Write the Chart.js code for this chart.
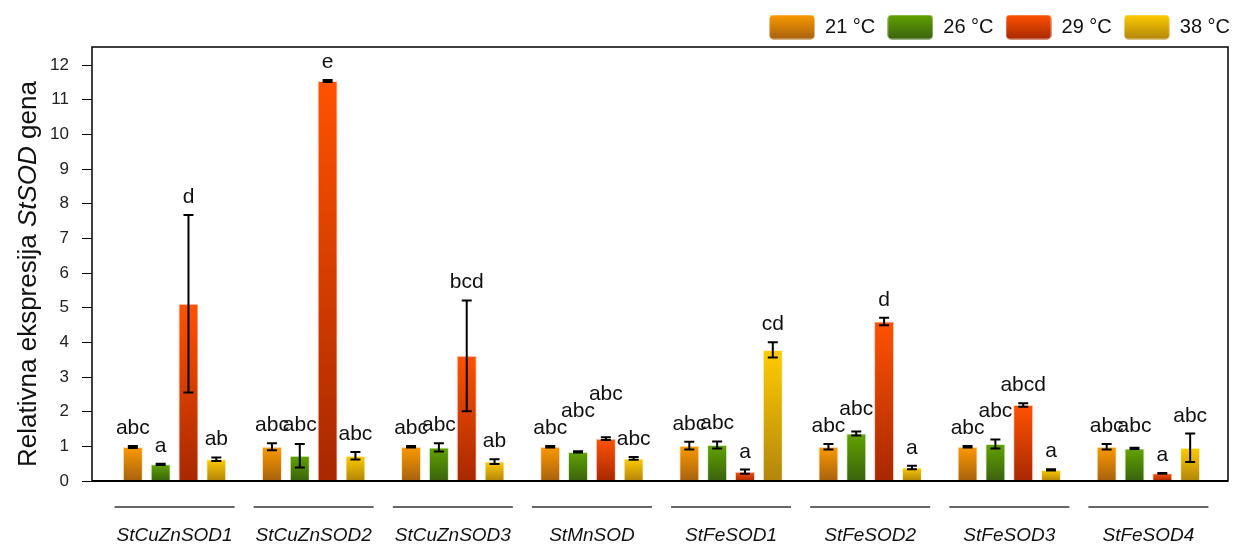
<!DOCTYPE html>
<html>
<head>
<meta charset="utf-8">
<script src="https://cdn.jsdelivr.net/npm/chart.js@4.4.1/dist/chart.umd.min.js"></script>
<style>
  html, body { margin: 0; padding: 0; background: #fff; }
  #wrap { width: 1234px; height: 544px; position: relative; }
</style>
</head>
<body>
<div id="wrap"><canvas id="sodChart"></canvas></div>
<script>
const FONT = "'Liberation Sans', Arial, sans-serif";

const genes = ['StCuZnSOD1', 'StCuZnSOD2', 'StCuZnSOD3', 'StMnSOD', 'StFeSOD1', 'StFeSOD2', 'StFeSOD3', 'StFeSOD4'];
const temps = ['21 °C', '26 °C', '29 °C', '38 °C'];
const yTicks = [0, 1, 2, 3, 4, 5, 6, 7, 8, 9, 10, 11, 12];

// mean relative expression per gene
const t21 = [0.98, 0.99, 0.99, 0.99, 1.02, 0.99, 0.99, 0.99];
const t26 = [0.48, 0.73, 0.97, 0.84, 1.04, 1.37, 1.07, 0.94];
const t29 = [5.11, 11.54, 3.61, 1.22, 0.27, 4.60, 2.19, 0.22];
const t38 = [0.63, 0.73, 0.56, 0.65, 3.78, 0.39, 0.32, 0.96];

// standard errors
const t21Err = [0.03, 0.10, 0.02, 0.02, 0.11, 0.08, 0.02, 0.08];
const t26Err = [0.02, 0.34, 0.12, 0.02, 0.10, 0.06, 0.13, 0.02];
const t29Err = [2.56, 0.03, 1.60, 0.04, 0.06, 0.11, 0.05, 0.01];
const t38Err = [0.05, 0.11, 0.07, 0.04, 0.22, 0.05, 0.02, 0.41];

// significance groups
const t21Sig = ['abc', 'abc', 'abc', 'abc', 'abc', 'abc', 'abc', 'abc'];
const t26Sig = ['a', 'abc', 'abc', 'abc', 'abc', 'abc', 'abc', 'abc'];
const t29Sig = ['d', 'e', 'bcd', 'abc', 'a', 'd', 'abcd', 'a'];
const t38Sig = ['ab', 'abc', 'ab', 'abc', 'cd', 'a', 'a', 'abc'];

const series = [
  { label: temps[0], values: t21, err: t21Err, sig: t21Sig, top: '#fb9a00', bottom: '#a8620f', edge: 'rgba(255,220,170,0.7)' },
  { label: temps[1], values: t26, err: t26Err, sig: t26Sig, top: '#62a300', bottom: '#3a620f', edge: 'rgba(200,235,170,0.7)' },
  { label: temps[2], values: t29, err: t29Err, sig: t29Sig, top: '#ff5200', bottom: '#a82800', edge: 'rgba(255,190,170,0.7)' },
  { label: temps[3], values: t38, err: t38Err, sig: t38Sig, top: '#ffcc00', bottom: '#b3850c', edge: 'rgba(255,240,170,0.7)' }
];

// vertical gradient per bar, bright on top and dark at the base
const barFill = (top, bottom) => (ctx) => {
  const chart = ctx.chart;
  if (!chart.chartArea || ctx.type !== 'data') return top;
  const y = chart.scales.y;
  const v = ctx.parsed ? ctx.parsed.y : ctx.raw.y;
  const g = chart.ctx.createLinearGradient(0, y.getPixelForValue(v), 0, y.getPixelForValue(0));
  g.addColorStop(0, top);
  g.addColorStop(1, bottom);
  return g;
};

// little gradient swatches for the legend
const swatch = (top, bottom) => {
  const c = document.createElement('canvas');
  c.width = 46; c.height = 25;
  const x = c.getContext('2d');
  const g = x.createLinearGradient(0, 0, 0, 25);
  g.addColorStop(0, top);
  g.addColorStop(1, bottom);
  x.fillStyle = g;
  x.beginPath();
  x.roundRect(0.5, 0.5, 45, 24, 4);
  x.fill();
  return c;
};

const errorBars = {
  id: 'errorBars',
  afterDatasetsDraw(chart) {
    const { ctx } = chart;
    const yScale = chart.scales.y;
    ctx.save();
    ctx.strokeStyle = '#000';
    ctx.lineWidth = 2;
    series.forEach((s, d) => {
      const meta = chart.getDatasetMeta(d);
      meta.data.forEach((bar, i) => {
        const hi = yScale.getPixelForValue(s.values[i] + s.err[i]);
        const lo = yScale.getPixelForValue(s.values[i] - s.err[i]);
        ctx.beginPath();
        ctx.moveTo(bar.x, hi); ctx.lineTo(bar.x, lo);
        ctx.moveTo(bar.x - 5, hi); ctx.lineTo(bar.x + 5, hi);
        ctx.moveTo(bar.x - 5, lo); ctx.lineTo(bar.x + 5, lo);
        ctx.stroke();
      });
    });

    // letters above each bar, lifted when they would collide with the neighbour
    ctx.font = '21px ' + FONT;
    ctx.fillStyle = '#111';
    ctx.textAlign = 'center';
    ctx.textBaseline = 'alphabetic';
    genes.forEach((g, i) => {
      let prev = null;
      series.forEach((s, d) => {
        const bar = chart.getDatasetMeta(d).data[i];
        const w = ctx.measureText(s.sig[i]).width;
        let base = yScale.getPixelForValue(s.values[i] + s.err[i]) - 12;
        if (prev) {
          const overlapX = (prev.x + prev.w / 2) > (bar.x - w / 2);
          const dy = base - prev.base;
          if (overlapX && Math.abs(dy) < 17) {
            base = Math.abs(dy) <= 5 ? Math.min(base, prev.base) : prev.base - 17;
          }
        }
        ctx.fillText(s.sig[i], bar.x, base);
        prev = { x: bar.x, w, base };
      });
    });
    ctx.restore();
  }
};

const frame = {
  id: 'frame',
  afterLayout(chart) {
    // push the legend out to the right edge of the canvas
    chart.legend.left += 14;
    chart.legend.right += 14;
  },
  afterDraw(chart) {
    const { ctx, chartArea: a, scales } = chart;
    ctx.save();
    ctx.strokeStyle = '#000';
    ctx.lineWidth = 1.5;
    ctx.strokeRect(a.left, a.top, a.right - a.left, a.bottom - a.top);
    ctx.lineWidth = 2;
    ctx.beginPath();
    ctx.moveTo(a.left, a.bottom); ctx.lineTo(a.right, a.bottom);
    ctx.stroke();

    // short rule over each gene name
    ctx.strokeStyle = '#333';
    ctx.lineWidth = 1.5;
    genes.forEach((g, i) => {
      const cx = scales.x.getPixelForValue(i);
      ctx.beginPath();
      ctx.moveTo(cx - 60, a.bottom + 26);
      ctx.lineTo(cx + 60, a.bottom + 26);
      ctx.stroke();
    });

    // y title with the gene family name in italics
    const parts = [['Relativna ekspresija ', ''], ['StSOD', 'italic '], [' gena', '']];
    ctx.translate(36, (a.top + a.bottom) / 2 + 10);
    ctx.rotate(-Math.PI / 2);
    ctx.fillStyle = '#111';
    ctx.textBaseline = 'alphabetic';
    let total = 0;
    parts.forEach(([t, st]) => { ctx.font = st + '26px ' + FONT; total += ctx.measureText(t).width; });
    let x = -total / 2;
    parts.forEach(([t, st]) => {
      ctx.font = st + '26px ' + FONT;
      ctx.fillText(t, x, 0);
      x += ctx.measureText(t).width;
    });
    ctx.restore();
  }
};

new Chart(document.getElementById('sodChart'), {
  type: 'bar',
  data: {
    datasets: series.map(s => ({
      label: s.label,
      data: s.values.map((v, i) => ({ x: i, y: v })),
      backgroundColor: barFill(s.top, s.bottom),
      borderColor: s.edge,
      borderWidth: 1,
      categoryPercentage: 0.8,
      barPercentage: 0.72
    }))
  },
  options: {
    responsive: true,
    maintainAspectRatio: false,
    animation: false,
    layout: { padding: { top: 5, right: 6, left: 0, bottom: 0 } },
    plugins: {
      tooltip: { enabled: false },
      legend: {
        position: 'top',
        align: 'end',
        labels: {
          usePointStyle: true,
          pointStyleWidth: 46,
          padding: 12,
          color: '#111',
          font: { family: FONT, size: 20 },
          generateLabels: () => series.map((s, i) => ({
            text: s.label,
            pointStyle: swatch(s.top, s.bottom),
            datasetIndex: i,
            lineWidth: 0,
            fontColor: '#111'
          }))
        }
      }
    },
    scales: {
      x: {
        type: 'linear',
        offset: false,
        min: -0.5935,
        max: 7.572,
        grid: { display: false },
        border: { display: false },
        afterBuildTicks: (scale) => { scale.ticks = genes.map((g, i) => ({ value: i })); },
        afterFit: (scale) => { scale.height = 63; },
        ticks: {
          autoSkip: false,
          maxRotation: 0,
          padding: 35,
          color: '#111',
          font: { family: FONT, size: 19, style: 'italic' },
          callback: (v) => genes[v]
        }
      },
      y: {
        min: 0,
        max: 12.52,
        grid: { drawOnChartArea: false, tickLength: 10, color: '#000', lineWidth: 1 },
        border: { display: false },
        afterBuildTicks: (scale) => { scale.ticks = yTicks.map(v => ({ value: v })); },
        afterFit: (scale) => { scale.width = 92; },
        ticks: {
          padding: 13,
          color: '#222',
          font: { family: FONT, size: 17 }
        }
      }
    }
  },
  plugins: [errorBars, frame]
});
</script>
</body>
</html>
